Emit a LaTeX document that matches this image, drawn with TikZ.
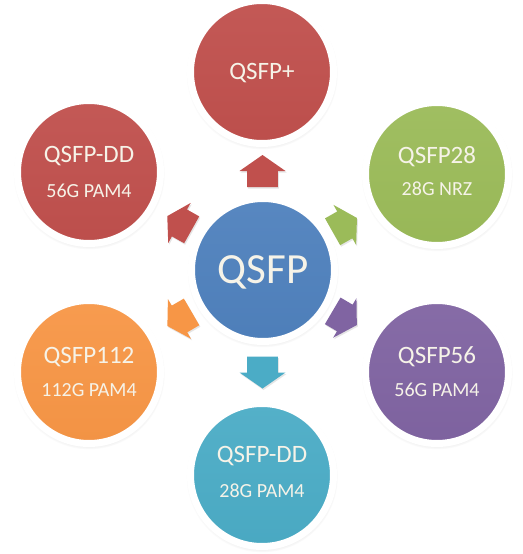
\documentclass[tikz,border=0pt]{standalone}
\usepackage{fontspec}
\setmainfont{Carlito}
\usetikzlibrary{shadows,calc}
\definecolor{cred}{HTML}{C0504D}
\definecolor{cgreen}{HTML}{9BBB59}
\definecolor{cblue}{HTML}{4F81BD}
\definecolor{corange}{HTML}{F79646}
\definecolor{cpurple}{HTML}{8064A2}
\definecolor{ccyan}{HTML}{4BACC6}
\definecolor{txt}{HTML}{F6F3E8}
\tikzset{
  disc/.style={circle, draw=white, line width=7pt, minimum size=143pt, inner sep=0pt,
    top color=#1!95!white, bottom color=#1!98!black,
    circular drop shadow={shadow xshift=0pt, shadow yshift=-1.5pt, opacity=0.35, shadow scale=1.06}},
  ttl/.style={anchor=base, text=txt, inner sep=0pt, font=\fontsize{25}{30}\selectfont},
  subt/.style={anchor=base, text=txt, inner sep=0pt, font=\fontsize{20}{24}\selectfont},
  bigt/.style={anchor=base, text=txt, inner sep=0pt, font=\fontsize{43}{50}\selectfont},
  arrshadow/.style={drop shadow={shadow xshift=1pt, shadow yshift=-1.5pt, opacity=0.2}},
  pics/barrow/.style args={#1/#2/#3}{code={
    \fill[#1, arrshadow] (-#2,-0.67*#3) -- (0,-0.67*#3) -- (0,-#3) -- (#2,0)
      -- (0,#3) -- (0,0.67*#3) -- (-#2,0.67*#3) -- cycle;}}
}
\begin{document}
\begin{tikzpicture}[x=1pt,y=-1pt]
\useasboundingbox[fill=white] (0,0) rectangle (522,554);
% circles
\node[disc=cred]    (qtop) at (262,72)  {};
\node[disc=cred]    (qul)  at (89,172)  {};
\node[disc=cgreen]  (qur)  at (437,174) {};
\node[disc=corange] (qll)  at (89,372)  {};
\node[disc=cpurple] (qlr)  at (437,372) {};
\node[disc=ccyan]   (qbot) at (262,475) {};
\node[disc=cblue]   (qctr) at (263,270) {};
% texts
\node[bigt] (tctr) at ($(qctr)+(0,13)$) {QSFP};
\node[ttl] (ttop) at ($(qtop)+(0,7)$) {QSFP+};
\node[ttl] (tul) at ($(qul)+(0,-10)$) {QSFP-DD};
\node[subt] (sul) at ($(qul)+(0,25)$) {56G PAM4};
\node[ttl] (tur) at ($(qur)+(0,-11)$) {QSFP28};
\node[subt] (sur) at ($(qur)+(0,21)$) {28G NRZ};
\node[ttl] (tll) at ($(qll)+(0,-9)$) {QSFP112};
\node[subt] (sll) at ($(qll)+(0,24)$) {112G PAM4};
\node[ttl] (tlr) at ($(qlr)+(0,-9)$) {QSFP56};
\node[subt] (slr) at ($(qlr)+(0,24)$) {56G PAM4};
\node[ttl] (tbot) at ($(qbot)+(0,-13)$) {QSFP-DD};
\node[subt] (sbot) at ($(qbot)+(0,22)$) {28G PAM4};
% block arrows
\pic[rotate=90] at ($(qctr)!0.5!(qtop)$) {barrow={cred/16/23}};
\pic[rotate=-90] at ($(qctr)!0.5!(qbot)$) {barrow={ccyan/16/23}};
\pic[rotate=150.7] at ($(qctr)!0.48!(qul)$) {barrow={cred/14/23}};
\pic[rotate=29.5] at ($(qctr)!0.47!(qur)$) {barrow={cgreen/14/23}};
\pic[rotate=210.2] at ($(qctr)!0.48!(qll)$) {barrow={corange/14/23}};
\pic[rotate=-30.5] at ($(qctr)!0.47!(qlr)$) {barrow={cpurple/14/23}};
\end{tikzpicture}
\end{document}
